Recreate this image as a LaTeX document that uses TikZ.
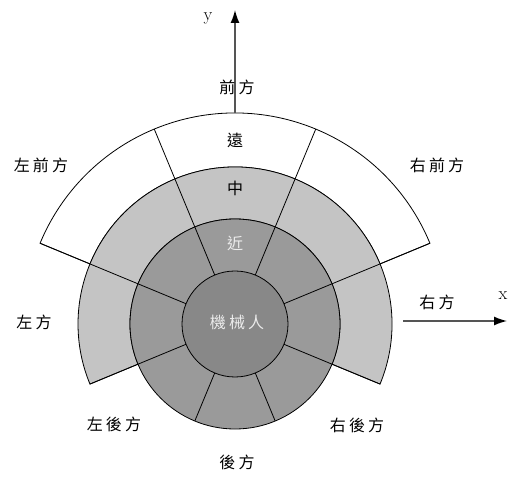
\documentclass[tikz,border=0pt]{standalone}
\usepackage{fontspec}
\newfontfamily\cjk[LetterSpace=20]{Noto Sans CJK TC}
\usetikzlibrary{arrows.meta}
\definecolor{innergray}{HTML}{888888}
\definecolor{neargray}{HTML}{9A9A9A}
\definecolor{midgray}{HTML}{C4C4C4}
\definecolor{axisgray}{HTML}{555555}
\tikzset{
  lbl/.style={font=\cjk\fontsize{16}{16}\selectfont, text=black, inner sep=0pt},
  wlbl/.style={lbl, text=white!92!black},
  latin/.style={font=\fontsize{18}{18}\selectfont, inner sep=0pt},
  ring/.style={draw=black, line width=0.8pt},
  axis/.style={draw=axisgray, line width=1.4pt, -{Latex[length=13pt,width=9pt,color=black]}},
  radial/.style={draw=black, line width=0.8pt}
}
\begin{document}
\begin{tikzpicture}[x=1pt,y=1pt]
\useasboundingbox (-235,-154) rectangle (275,324);
\def\ri{53}\def\rn{105}\def\rm{157}\def\rf{211}
% far ring
\filldraw[ring, fill=white] (22.5:\rm) -- (22.5:\rf) arc[start angle=22.5, end angle=157.5, radius=\rf] -- (157.5:\rm) arc[start angle=157.5, end angle=22.5, radius=\rm] -- cycle;
% middle ring
\filldraw[ring, fill=midgray] (-22.5:\rn) -- (-22.5:\rm) arc[start angle=-22.5, end angle=202.5, radius=\rm] -- (202.5:\rn) arc[start angle=202.5, end angle=-22.5, radius=\rn] -- cycle;
% near ring
\filldraw[ring, fill=neargray] (0,0) circle[radius=\rn];
% radial lines
\foreach \a in {22.5,67.5,112.5,157.5} \draw[radial] (\a:\ri) -- (\a:\rf);
\foreach \a in {202.5,-22.5} \draw[radial] (\a:\ri) -- (\a:\rm);
\foreach \a in {247.5,292.5} \draw[radial] (\a:\ri) -- (\a:\rn);
% inner circle
\filldraw[ring, fill=innergray] (0,0) circle[radius=\ri];
% axes
\coordinate (ystart) at (0,\rf);
\coordinate (yend) at (0,314);
\coordinate (xstart) at (168,3);
\coordinate (xend) at (272,3);
\draw[axis] (ystart) -- (yend);
\draw[axis] (xstart) -- (xend);
\node[latin] (ylab) at (-27,306) {y};
\node[latin] (xlab) at (268,28) {x};
% labels
\node[lbl] (front) at (2,237) {前方};
\node[lbl] (far) at (0,184) {遠};
\node[lbl] (mid) at (0,136) {中};
\node[wlbl] (near) at (0,81) {近};
\node[wlbl] (robot) at (2,2) {機械人};
\node[lbl] (lf) at (-194,159) {左前方};
\node[lbl] (rf) at (202,159) {右前方};
\node[lbl] (l) at (-201,2) {左方};
\node[lbl] (r) at (202,22) {右方};
\node[lbl] (lb) at (-121,-100) {左後方};
\node[lbl] (rb) at (122,-101) {右後方};
\node[lbl] (b) at (2,-138) {後方};
\end{tikzpicture}
\end{document}
